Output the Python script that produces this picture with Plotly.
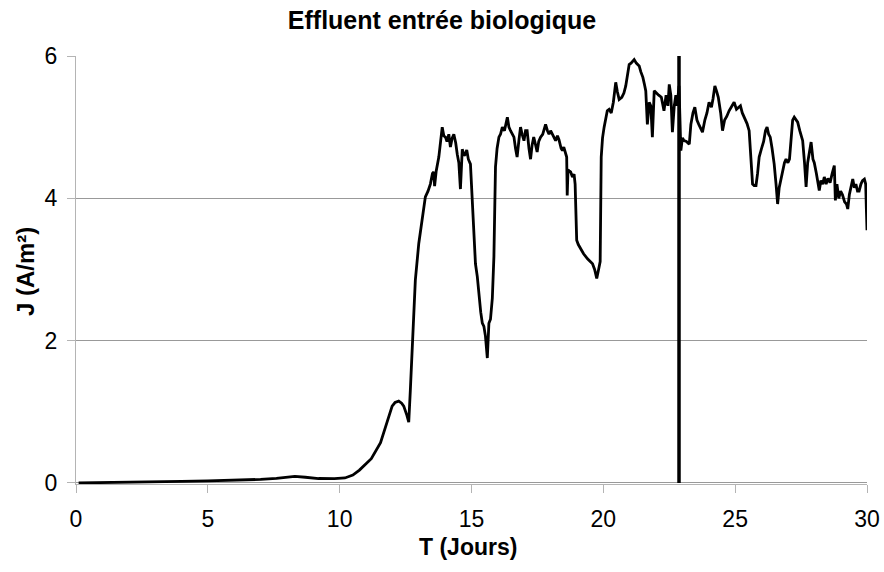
import plotly.graph_objects as go

# Time (days) and current density J (A/m²)
t_days = [0.1, 1.0, 2.0, 3.0, 4.0, 5.0, 6.0, 7.0, 7.6, 8.0, 8.3, 8.7, 9.2, 9.8, 10.2, 10.5, 10.75,
          11.0, 11.2, 11.55, 11.8, 11.99, 12.1, 12.24, 12.35, 12.43, 12.55, 12.62, 12.68, 12.75,
          12.82, 12.87, 13.0, 13.13, 13.25, 13.35, 13.44, 13.52, 13.57, 13.6, 13.66, 13.76, 13.83,
          13.89, 13.95, 14.01, 14.07, 14.14, 14.2, 14.27, 14.33, 14.4, 14.46, 14.52, 14.58, 14.65,
          14.72, 14.77, 14.82, 14.88, 14.96, 15.03, 15.1, 15.15, 15.22, 15.28, 15.35, 15.41, 15.47,
          15.53, 15.6, 15.66, 15.72, 15.79, 15.85, 15.91, 15.97, 16.04, 16.1, 16.17, 16.25, 16.36,
          16.42, 16.48, 16.55, 16.61, 16.67, 16.73, 16.8, 16.86, 16.92, 16.99, 17.05, 17.11, 17.18,
          17.24, 17.3, 17.36, 17.43, 17.49, 17.55, 17.62, 17.7, 17.81, 17.88, 17.94, 18.0, 18.06,
          18.13, 18.19, 18.26, 18.32, 18.4, 18.45, 18.5, 18.55, 18.61, 18.63, 18.66, 18.72, 18.76,
          18.83, 18.89, 18.93, 18.96, 18.99, 19.05, 19.14, 19.25, 19.4, 19.5, 19.59, 19.67, 19.75,
          19.82, 19.88, 19.92, 19.97, 20.03, 20.09, 20.15, 20.22, 20.3, 20.38, 20.47, 20.53, 20.6,
          20.7, 20.78, 20.85, 20.92, 20.98, 21.05, 21.17, 21.25, 21.36, 21.42, 21.5, 21.56, 21.61,
          21.67, 21.74, 21.8, 21.86, 21.93, 22.0, 22.1, 22.2, 22.3, 22.38, 22.45, 22.5, 22.56,
          22.62, 22.69, 22.75, 22.8, 22.87, 22.91, 22.94, 23.0, 23.06, 23.15, 23.26, 23.32, 23.4,
          23.47, 23.55, 23.62, 23.7, 23.76, 23.85, 23.93, 24.01, 24.1, 24.16, 24.23, 24.3, 24.36,
          24.45, 24.52, 24.6, 24.68, 24.77, 24.86, 24.96, 25.05, 25.2, 25.27, 25.34, 25.45, 25.53,
          25.6, 25.66, 25.72, 25.79, 25.85, 25.91, 26.0, 26.08, 26.15, 26.21, 26.27, 26.33, 26.4,
          26.48, 26.55, 26.61, 26.67, 26.73, 26.8, 26.87, 26.93, 27.0, 27.06, 27.12, 27.18, 27.24,
          27.3, 27.37, 27.45, 27.56, 27.63, 27.69, 27.75, 27.82, 27.88, 27.95, 28.0, 28.08, 28.19,
          28.25, 28.32, 28.38, 28.45, 28.52, 28.6, 28.68, 28.76, 28.8, 28.86, 28.93, 29.0, 29.07,
          29.15, 29.22, 29.27, 29.33, 29.4, 29.46, 29.52, 29.58, 29.64, 29.7, 29.77, 29.83, 29.9,
          29.95, 29.98, 30.0]

j_values = [0.0, 0.003, 0.008, 0.015, 0.022, 0.03, 0.038, 0.05, 0.065, 0.085, 0.092, 0.08, 0.062,
            0.06, 0.07, 0.11, 0.18, 0.27, 0.34, 0.565, 0.845, 1.08, 1.13, 1.15, 1.12, 1.08, 0.95,
            0.855, 1.3, 1.825, 2.4, 2.85, 3.365, 3.74, 4.02, 4.1, 4.2, 4.35, 4.37, 4.17, 4.38, 4.58,
            4.8, 5.0, 4.88, 4.86, 4.8, 4.9, 4.72, 4.85, 4.9, 4.78, 4.62, 4.5, 4.13, 4.69, 4.6, 4.62,
            4.68, 4.55, 4.48, 3.97, 3.5, 3.08, 2.9, 2.62, 2.4, 2.245, 2.2, 2.06, 1.755, 2.245, 2.3,
            2.595, 3.18, 4.44, 4.7, 4.86, 4.9, 5.0, 4.95, 5.14, 5.0, 4.95, 4.9, 4.86, 4.7, 4.58,
            4.82, 5.0, 4.9, 4.81, 4.95, 4.95, 4.7, 4.55, 4.75, 4.86, 4.75, 4.65, 4.8, 4.86, 4.9,
            5.04, 4.95, 4.9, 4.95, 4.9, 4.85, 4.81, 4.88, 4.82, 4.7, 4.67, 4.72, 4.65, 4.58, 4.04,
            4.4, 4.38, 4.37, 4.3, 4.34, 4.2, 3.8, 3.41, 3.35, 3.29, 3.22, 3.15, 3.12, 3.08, 3.0,
            2.875, 3.0, 3.11, 4.58, 4.85, 5.0, 5.15, 5.23, 5.25, 5.2, 5.35, 5.63, 5.5, 5.39, 5.42,
            5.48, 5.58, 5.75, 5.88, 5.9, 5.95, 5.9, 5.86, 5.78, 5.7, 5.6, 5.51, 5.04, 5.35, 5.3,
            4.86, 5.51, 5.48, 5.45, 5.42, 5.23, 5.45, 5.3, 5.6, 5.45, 4.93, 5.3, 5.45, 5.3, 5.58,
            5.0, 4.67, 4.85, 4.81, 4.8, 4.76, 5.04, 5.2, 5.28, 5.1, 5.04, 4.97, 4.93, 5.1, 5.2,
            5.35, 5.28, 5.4, 5.58, 5.5, 5.42, 5.2, 4.95, 5.1, 5.15, 5.23, 5.28, 5.35, 5.25, 5.3,
            5.2, 5.14, 5.05, 4.95, 4.6, 4.2, 4.18, 4.18, 4.35, 4.58, 4.7, 4.8, 4.95, 5.0, 4.9,
            4.86, 4.7, 4.48, 4.2, 3.92, 4.15, 4.25, 4.4, 4.5, 4.55, 4.5, 4.55, 4.9, 5.1, 5.14, 5.1,
            5.07, 4.95, 4.81, 4.5, 4.16, 4.5, 4.7, 4.79, 4.55, 4.5, 4.35, 4.11, 4.25, 4.2, 4.3, 4.2,
            4.28, 4.22, 4.35, 4.46, 3.97, 4.2, 4.0, 4.1, 4.05, 3.95, 3.92, 3.85, 4.05, 4.15, 4.27,
            4.15, 4.2, 4.1, 4.1, 4.2, 4.25, 4.27, 4.2, 3.8, 3.55]

# Vertical marker line position (days)
marker_day = 22.87
marker_span = [0, 6]

x_ticks = [0, 5, 10, 15, 20, 25, 30]
y_ticks = [0, 2, 4, 6]

FONT = "Liberation Sans, Arial, sans-serif"

W, H = 884, 572
ML, MR, MT, MB = 76, 17, 56, 88
PW, PH = W - ML - MR, H - MT - MB

fig = go.Figure()
fig.add_trace(go.Scatter(x=t_days, y=j_values, mode="lines",
                         line=dict(color="black", width=2.8), showlegend=False,
                         hoverinfo="skip"))
fig.add_trace(go.Scatter(x=[marker_day, marker_day], y=marker_span, mode="lines",
                         line=dict(color="black", width=3.5), showlegend=False,
                         hoverinfo="skip"))

fig.update_layout(
    width=W, height=H,
    paper_bgcolor="white", plot_bgcolor="white",
    margin=dict(l=ML, r=MR, t=MT, b=MB, autoexpand=False),
    title=dict(text="<b>Effluent entrée biologique</b>", x=442 / W, xanchor="center",
               xref="container", y=1 - 20.5 / H, yref="container", yanchor="middle",
               font=dict(family=FONT, size=25, color="black")),
    font=dict(family=FONT, color="black"),
    annotations=[
        dict(text="<b>T (Jours)</b>", xref="paper", yref="paper", x=(468 - ML) / PW,
             y=-63 / PH, xanchor="center", yanchor="middle", showarrow=False,
             font=dict(family=FONT, size=23, color="black")),
        dict(text="<b>J (A/m²)</b>", xref="paper", yref="paper", x=-51 / PW,
             y=(H - MB - 272) / PH, xanchor="center", yanchor="middle", showarrow=False,
             textangle=-90, font=dict(family=FONT, size=24, color="black")),
    ],
)
fig.update_xaxes(
    range=[0, 30], tickvals=x_ticks, ticktext=[str(v) for v in x_ticks], automargin=False,
    showgrid=False, zeroline=False, showline=True, linecolor="#B4B4B4", linewidth=1,
    ticks="outside", ticklen=8, tickcolor="#B4B4B4", tickwidth=1, ticklabelstandoff=6,
    tickfont=dict(family=FONT, size=23, color="black"),
)
fig.update_yaxes(
    range=[-0.015, 6], tickvals=y_ticks, ticktext=[str(v) for v in y_ticks], automargin=False,
    showgrid=True, gridcolor="#999999", gridwidth=1, zeroline=False,
    showline=True, linecolor="#B4B4B4", linewidth=1,
    ticks="outside", ticklen=8, tickcolor="#B4B4B4", tickwidth=1, ticklabelstandoff=5,
    tickfont=dict(family=FONT, size=23, color="black"),
)

# Remove the default 8px page margin so the figure fills the window exactly.
fig.write_html("out.html", config={"displayModeBar": False},
               post_script="document.body.style.margin='0';")
